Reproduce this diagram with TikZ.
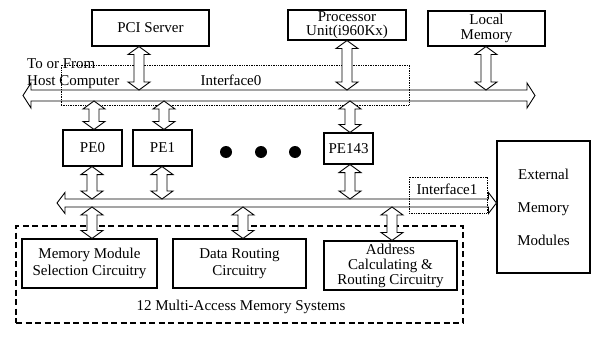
\documentclass[tikz,border=0pt]{standalone}
\usepackage{fontspec}
\setmainfont{Liberation Serif}
\usetikzlibrary{calc}
\tikzset{
  box/.style={draw, line width=1.1pt, inner sep=0pt, align=center, font=\fontsize{15}{16.5}\selectfont},
  hollow/.style={draw, line width=0.9pt, fill=white, line join=miter},
  lbl/.style={inner sep=0pt, font=\fontsize{15}{17}\selectfont, align=left},
  dotbox/.style={draw, line width=0.7pt, densely dotted, inner sep=0pt},
  dashbox/.style={draw, line width=1.2pt, dash pattern=on 6pt off 3.5pt, inner sep=0pt},
  bigdot/.style={circle, fill=black, minimum size=12pt, inner sep=0pt},
}
% vertical double-headed hollow arrow from #1 (upper point) to #2 (lower point)
\newcommand\vdarrow[2]{%
  \draw[hollow] let \p1=(#1), \p2=(#2) in
  (\x1,\y1) -- (\x1+11pt,\y1-8pt) -- (\x1+5pt,\y1-8pt) -- (\x1+5pt,\y2+8pt)
  -- (\x1+11pt,\y2+8pt) -- (\x1,\y2) -- (\x1-11pt,\y2+8pt) -- (\x1-5pt,\y2+8pt)
  -- (\x1-5pt,\y1-8pt) -- (\x1-11pt,\y1-8pt) -- cycle;}
% horizontal double-headed hollow bus: #1 left tip, #2 right tip, #3 half shaft, #4 half head, #5 head length
\newcommand\hbus[5]{%
  \draw[hollow] let \p1=(#1), \p2=(#2) in
  (\x1,\y1) -- (\x1+#5,\y1+#4) -- (\x1+#5,\y1+#3) -- (\x2-#5,\y1+#3)
  -- (\x2-#5,\y1+#4) -- (\x2,\y1) -- (\x2-#5,\y1-#4) -- (\x2-#5,\y1-#3)
  -- (\x1+#5,\y1-#3) -- (\x1+#5,\y1-#4) -- cycle;}
\begin{document}
\begin{tikzpicture}[x=1pt, y=-1pt]
\path[use as bounding box] (0,0) rectangle (592,337);

% top row
\node[box, minimum width=117pt, minimum height=36pt] (pci) at (150.5,28) {PCI Server};
\node[box, minimum width=118pt, minimum height=30pt, font=\fontsize{15}{13.5}\selectfont] (proc) at (347,25) {Processor\\Unit(i960Kx)};
\node[box, minimum width=117pt, minimum height=35pt, font=\fontsize{15}{14.5}\selectfont] (local) at (486.5,28.5) {Local\\Memory};

% host label
\node[lbl, anchor=north west] (host) at (27,58) {To or From\\Host Computer};

% top bus
\coordinate (busL) at (23,95.5);
\coordinate (busR) at (535,95.5);
\coordinate (busTop) at (0,90);
\coordinate (busBot) at (0,101);
\hbus{busL}{busR}{5.5pt}{12.5pt}{8pt}

% interface0 box
\node[dotbox, minimum width=348pt, minimum height=40pt] (if0) at (235,85) {};
\node[lbl] (if0t) at (231,80) {Interface0};

% PEs
\node[box, minimum width=59pt, minimum height=36pt] (pe0) at (92.5,148) {PE0};
\node[box, minimum width=59pt, minimum height=36pt] (pe1) at (162.5,148) {PE1};
\node[box, minimum width=49pt, minimum height=31pt] (pe143) at (348.5,148.5) {PE143};
\node[bigdot] (d1) at (226,152) {};
\node[bigdot] (d2) at (261,152) {};
\node[bigdot] (d3) at (295,152) {};

% external memory
\node[box, minimum width=93pt, minimum height=132pt, font=\fontsize{15}{33}\selectfont] (ext) at (543.5,207) {External\\Memory\\Modules};

% lower bus
\coordinate (bus2L) at (57,203);
\coordinate (bus2R) at (ext.west |- bus2L);
\coordinate (bus2Top) at (0,199);
\coordinate (bus2Bot) at (0,207);
\hbus{bus2L}{bus2R}{4pt}{10.5pt}{8pt}

% interface1 box
\node[dotbox, minimum width=78pt, minimum height=36pt] (if1) at (448,195) {};
\node[lbl] (if1t) at (447,189) {Interface1};

% memory systems
\node[dashbox, minimum width=447pt, minimum height=97pt] (mas) at (239.5,274.5) {};
\node[box, minimum width=135pt, minimum height=49pt] (mms) at (89.5,263.5) {Memory Module\\Selection Circuitry};
\node[box, minimum width=133pt, minimum height=49pt] (drc) at (239.5,263.5) {Data Routing\\Circuitry};
\node[box, minimum width=133pt, minimum height=49pt, font=\fontsize{15}{15}\selectfont] (acr) at (390.5,265.5) {Address\\Calculating \&\\Routing Circuitry};
\node[lbl] (mast) at (241,307) {12 Multi-Access Memory Systems};

% arrow x positions
\coordinate (xpci) at (139,0);
\coordinate (xproc) at (347,0);
\coordinate (xloc) at (486,0);
\coordinate (xpe0a) at (94,0);
\coordinate (xpe1a) at (164,0);
\coordinate (xpe143a) at (350,0);
\coordinate (xpe0b) at (92,0);
\coordinate (xpe1b) at (162,0);
\coordinate (xpe143b) at (350,0);
\coordinate (xmms) at (92,0);
\coordinate (xdrc) at (243,0);
\coordinate (xacr) at (392,0);

% arrows to top bus
\vdarrow{xpci |- pci.south}{xpci |- busTop}
\vdarrow{xproc |- proc.south}{xproc |- busTop}
\vdarrow{xloc |- local.south}{xloc |- busTop}
% top bus to PEs
\vdarrow{xpe0a |- busBot}{xpe0a |- pe0.north}
\vdarrow{xpe1a |- busBot}{xpe1a |- pe1.north}
\vdarrow{xpe143a |- busBot}{xpe143a |- pe143.north}
% PEs to lower bus
\vdarrow{xpe0b |- pe0.south}{xpe0b |- bus2Top}
\vdarrow{xpe1b |- pe1.south}{xpe1b |- bus2Top}
\vdarrow{xpe143b |- pe143.south}{xpe143b |- bus2Top}
% lower bus to memory circuits
\vdarrow{xmms |- bus2Bot}{xmms |- mms.north}
\vdarrow{xdrc |- bus2Bot}{xdrc |- drc.north}
\vdarrow{xacr |- bus2Bot}{xacr |- acr.north}
\end{tikzpicture}
\end{document}
